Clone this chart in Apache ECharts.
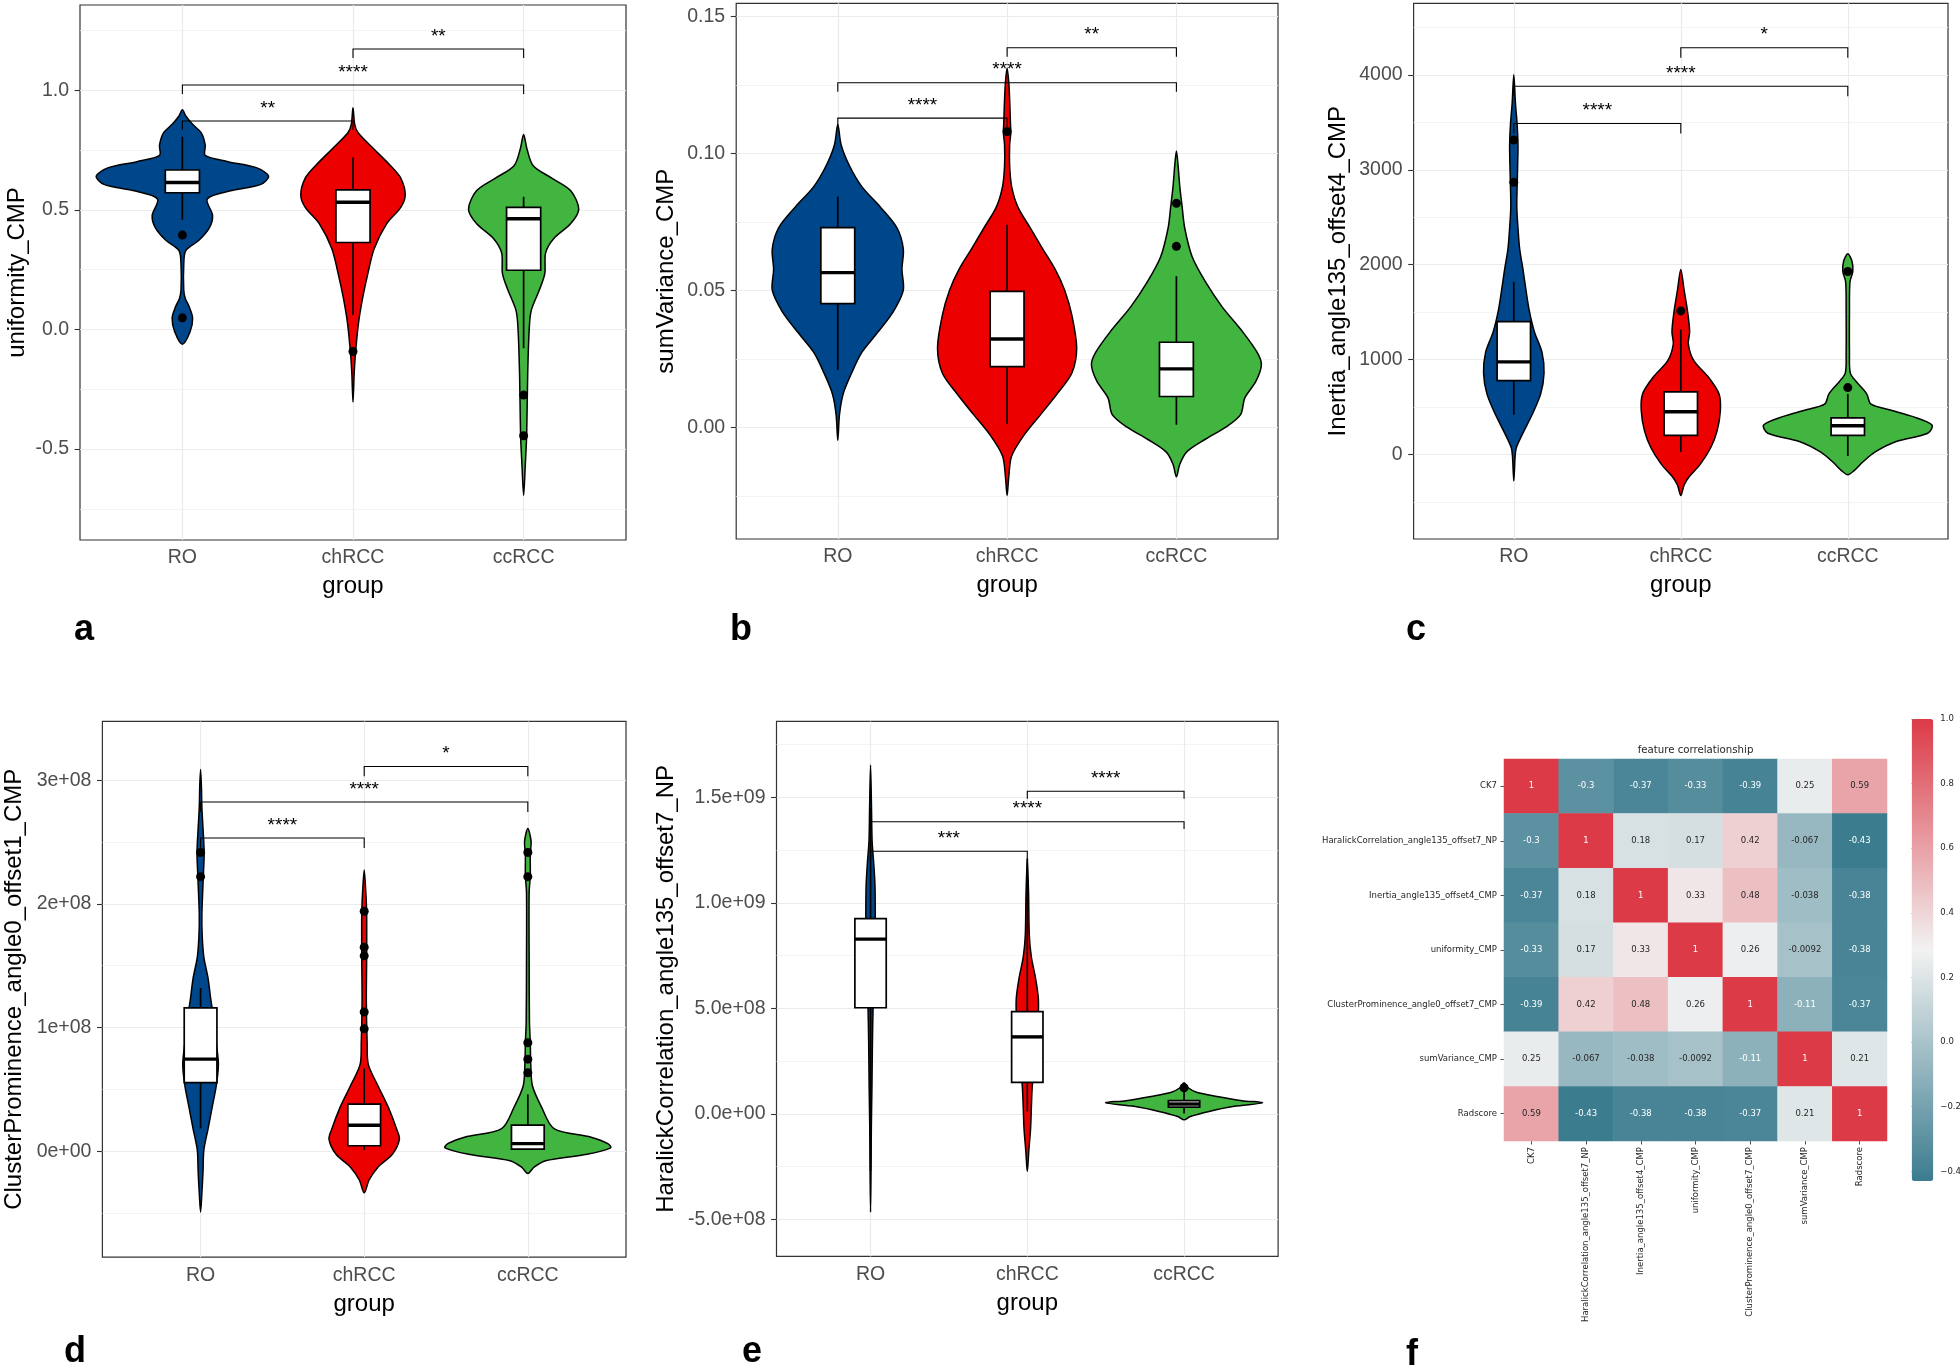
<!DOCTYPE html>
<html><head><meta charset="utf-8">
<script src="https://cdn.jsdelivr.net/npm/echarts@6/dist/echarts.min.js"></script>
<style>html,body{margin:0;padding:0;background:#fff;}#c{width:1960px;height:1372px;}</style>
</head><body><div id="c"></div>
<script>
// ---------------- shared ----------------
const groups = ['RO', 'chRCC', 'ccRCC'];
const groupColors = ['#00468B', '#ED0000', '#42B540'];

// violin profiles: [value, half-width in category units], bottom tip -> top tip
// boxes: [lowerWhisker, q1, median, q3, upperWhisker]
// brackets: [fromGroup, toGroup, yValue, label]

// ---------------- panel a : uniformity_CMP ----------------
const aViolinRO = [[-0.061,0],[-0.009,0.045],[0.048,0.06],[0.095,0.04],[0.13,0.017],[0.165,0.008],[0.27,0.008],[0.33,0.02],[0.373,0.097],[0.425,0.158],[0.477,0.177],[0.546,0.146],[0.581,0.29],[0.607,0.46],[0.641,0.505],[0.676,0.437],[0.702,0.267],[0.728,0.134],[0.771,0.134],[0.823,0.11],[0.858,0.06],[0.893,0.02],[0.919,0]];
const aViolinCh = [[-0.303,0],[-0.182,0.007],[-0.095,0.015],[0.026,0.032],[0.13,0.056],[0.234,0.087],[0.338,0.124],[0.442,0.197],[0.511,0.28],[0.563,0.306],[0.633,0.28],[0.685,0.22],[0.754,0.124],[0.823,0.03],[0.858,0.01],[0.927,0]];
const aViolinCc = [[-0.693,0],[-0.563,0.01],[-0.459,0.017],[-0.355,0.02],[-0.182,0.024],[-0.009,0.032],[0.078,0.044],[0.165,0.092],[0.234,0.124],[0.321,0.129],[0.381,0.177],[0.442,0.275],[0.503,0.323],[0.581,0.275],[0.633,0.165],[0.685,0.056],[0.754,0.02],[0.815,0]];
const aBoxes = [[0.459,0.572,0.615,0.667,0.806],[0.061,0.364,0.532,0.584,0.719],[-0.078,0.248,0.463,0.511,0.555]];
const aOutliers = [[0.395,0.049],[-0.092],[-0.274,-0.444]];
const aBrackets = [[0,1,0.872,'**'],[0,2,1.0225,'****'],[1,2,1.173,'**']];
const aTicks = [-0.5,0,0.5,1.0];
const aTickLabels = ['-0.5','0.0','0.5','1.0'];
const aMinor = [-0.75,-0.25,0.25,0.75,1.25];

// ---------------- panel b : sumVariance_CMP ----------------
const bViolinRO = [[-0.0047,0],[0.0047,0.01],[0.0123,0.032],[0.0198,0.081],[0.0274,0.142],[0.035,0.24],[0.0425,0.33],[0.0501,0.387],[0.0577,0.379],[0.0652,0.387],[0.0728,0.35],[0.0804,0.252],[0.0879,0.142],[0.0955,0.069],[0.1031,0.02],[0.1106,0]];
const bViolinCh = [[-0.0248,0],[-0.0179,0.01],[-0.0104,0.027],[-0.0028,0.1],[0.0047,0.198],[0.0123,0.296],[0.0198,0.382],[0.029,0.411],[0.0411,0.382],[0.0501,0.34],[0.0577,0.284],[0.0652,0.21],[0.0728,0.137],[0.0804,0.064],[0.0879,0.027],[0.0955,0.015],[0.1031,0.015],[0.1076,0.022],[0.1106,0.02],[0.1198,0.015],[0.1259,0.01],[0.1312,0]];
const bViolinCc = [[-0.018,0],[-0.0134,0.02],[-0.0089,0.061],[-0.0043,0.171],[0.0002,0.294],[0.0047,0.379],[0.0108,0.404],[0.0169,0.47],[0.0229,0.502],[0.0274,0.477],[0.035,0.39],[0.0441,0.269],[0.0532,0.171],[0.0623,0.093],[0.0728,0.049],[0.0804,0.034],[0.0879,0.02],[0.0955,0.01],[0.1009,0]];
const bBoxes = [[0.021,0.0452,0.0565,0.0729,0.0843],[0.0014,0.0222,0.0323,0.0497,0.074],[0.001,0.0113,0.0214,0.0311,0.0552]];
const bOutliers = [[],[0.108],[0.0818,0.0661]];
const bBrackets = [[0,1,0.1129,'****'],[0,2,0.1258,'****'],[1,2,0.1386,'**']];
const bTicks = [0,0.05,0.10,0.15];
const bTickLabels = ['0.00','0.05','0.10','0.15'];
const bMinor = [-0.025,0.025,0.075,0.125];

// ---------------- panel c : Inertia_angle135_offset4_CMP ----------------
const cViolinRO = [[-280,0],[-17,0.008],[70,0.015],[201,0.048],[420,0.11],[638,0.161],[857,0.181],[1075,0.169],[1294,0.123],[1513,0.093],[1731,0.073],[1950,0.055],[2168,0.035],[2387,0.025],[2605,0.018],[2824,0.02],[3043,0.023],[3261,0.025],[3480,0.02],[3698,0.01],[4004,0]];
const cViolinCh = [[-433,0],[-323,0.02],[-236,0.05],[-105,0.116],[70,0.179],[245,0.217],[463,0.237],[638,0.229],[813,0.166],[988,0.078],[1163,0.045],[1294,0.053],[1513,0.04],[1731,0.02],[1950,0]];
const cViolinCc = [[-214,0],[-171,0.038],[-83,0.088],[26,0.164],[136,0.29],[223,0.479],[310,0.504],[398,0.39],[463,0.264],[529,0.139],[638,0.113],[769,0.05],[857,0.015],[1075,0.01],[1513,0.01],[1819,0.013],[1928,0.03],[2037,0.025],[2116,0]];
const cBoxes = [[420,778,975,1399,1819],[26,201,450,660,1316],[-17,201,302,385,638]];
const cOutliers = [[3314,2868],[1513],[704,1928]];
const cBrackets = [[0,1,3488,'****'],[0,2,3882,'****'],[1,2,4288,'*']];
const cTicks = [0,1000,2000,3000,4000];
const cTickLabels = ['0','1000','2000','3000','4000'];
const cMinor = [-500,500,1500,2500,3500,4500];

// ---------------- panel d : ClusterProminence_angle0_offset1_CMP (values in units of 1e8) ----------------
const dViolinRO = [[-0.492,0],[-0.336,0.008],[-0.163,0.015],[0.01,0.02],[0.184,0.046],[0.357,0.071],[0.53,0.096],[0.703,0.109],[0.877,0.096],[1.05,0.084],[1.223,0.063],[1.396,0.046],[1.569,0.02],[1.743,0.01],[1.916,0.008],[2.262,0.018],[2.415,0.022],[2.609,0.015],[2.78,0.008],[2.955,0.005],[3.087,0]];
const dViolinCh = [[-0.336,0],[-0.232,0.03],[-0.128,0.084],[-0.024,0.172],[0.097,0.215],[0.184,0.197],[0.357,0.147],[0.53,0.084],[0.703,0.025],[0.877,0.018],[1.223,0.013],[1.569,0.015],[1.916,0.015],[2.089,0.01],[2.273,0]];
const dViolinCc = [[-0.18,0],[-0.128,0.038],[-0.076,0.109],[-0.024,0.362],[0.028,0.506],[0.062,0.489],[0.114,0.387],[0.184,0.16],[0.357,0.084],[0.53,0.028],[0.703,0.018],[0.877,0.015],[1.05,0.01],[1.569,0.008],[2.089,0.008],[2.228,0.015],[2.401,0.015],[2.505,0.02],[2.609,0]];
const dBoxes = [[0.184,0.555,0.745,1.16,1.32],[0.01,0.045,0.211,0.381,0.67],[0.01,0.017,0.062,0.211,0.46]];
const dOutliers = [[2.415,2.22],[1.94,1.65,1.58,1.126,0.99],[2.415,2.22,0.877,0.745,0.634]];
const dBrackets = [[0,1,2.532,'****'],[0,2,2.823,'****'],[1,2,3.111,'*']];
const dTicks = [0,1,2,3];
const dTickLabels = ['0e+00','1e+08','2e+08','3e+08'];
const dMinor = [-0.5,0.5,1.5,2.5];

// ---------------- panel e : HaralickCorrelation_angle135_offset7_NP (values in units of 1e8) ----------------
const eViolinRO = [[-4.65,0],[-2.72,0.003],[-0.69,0.005],[1.34,0.009],[3.37,0.012],[4.99,0.016],[7.0,0.025],[9.25,0.03],[9.86,0.03],[10.88,0.028],[11.9,0.02],[12.91,0.01],[14.53,0.006],[16.52,0]];
const eViolinCh = [[-2.72,0],[-1.71,0.01],[-0.69,0.021],[0.32,0.026],[1.34,0.032],[2.5,0.05],[4.04,0.066],[5.4,0.071],[6.41,0.053],[7.43,0.026],[8.44,0.013],[10.47,0.008],[12.1,0]];
const eViolinCc = [[-0.28,0],[-0.12,0.04],[0.12,0.16],[0.36,0.32],[0.53,0.5],[0.63,0.37],[0.83,0.21],[1.03,0.08],[1.24,0.026],[1.48,0]];
const eBoxes = [[-2.7,5.03,8.28,9.25,14.5],[0.12,1.5,3.65,4.85,12.1],[0.02,0.32,0.47,0.63,1.24]];
const eOutliers = [[],[],[1.24]];
const eBrackets = [[0,1,12.44,'***'],[0,2,13.84,'****'],[1,2,15.28,'****']];
const eTicks = [-5,0,5,10,15];
const eTickLabels = ['-5.0e+08','0.0e+00','5.0e+08','1.0e+09','1.5e+09'];
const eMinor = [-2.5,2.5,7.5,12.5,17.5];

// ---------------- panel f : correlation heatmap ----------------
const featureNames = ['CK7','HaralickCorrelation_angle135_offset7_NP','Inertia_angle135_offset4_CMP','uniformity_CMP','ClusterProminence_angle0_offset7_CMP','sumVariance_CMP','Radscore'];
const corrMatrix = [
  [1,-0.3,-0.37,-0.33,-0.39,0.25,0.59],
  [-0.3,1,0.18,0.17,0.42,-0.067,-0.43],
  [-0.37,0.18,1,0.33,0.48,-0.038,-0.38],
  [-0.33,0.17,0.33,1,0.26,-0.0092,-0.38],
  [-0.39,0.42,0.48,0.26,1,-0.11,-0.37],
  [0.25,-0.067,-0.038,-0.0092,-0.11,1,0.21],
  [0.59,-0.43,-0.38,-0.38,-0.37,0.21,1]
];
const colorbarTicks = [-0.4,-0.2,0,0.2,0.4,0.6,0.8,1.0];
const colorbarMin = -0.43, colorbarMax = 1.0;

// ---------------- layout / style ----------------
const FONT = 'Liberation Sans, Arial, Helvetica, sans-serif';
const HFONT = 'DejaVu Sans, sans-serif';
const HSIZE = 8.5;
const cmapColors = ['#3b7c8f', '#f2f2f2', '#dc3a47'];

const panels = [
  {grid:{left:80, top:5, width:546, height:535}, yMin:-0.880, yMax:1.357, yName:'uniformity_CMP', nameGap:51, tip:0.038,
   violins:[aViolinRO,aViolinCh,aViolinCc], boxes:aBoxes, outliers:aOutliers, brackets:aBrackets, ticks:aTicks, labels:aTickLabels, minor:aMinor},
  {grid:{left:736.2, top:3.3, width:541.8, height:535.7}, yMin:-0.0407, yMax:0.1548, yName:'sumVariance_CMP', nameGap:57.6, tip:0.0033,
   violins:[bViolinRO,bViolinCh,bViolinCc], boxes:bBoxes, outliers:bOutliers, brackets:bBrackets, ticks:bTicks, labels:bTickLabels, minor:bMinor},
  {grid:{left:1413.6, top:3.3, width:534.4, height:535.7}, yMin:-892, yMax:4756, yName:'Inertia_angle135_offset4_CMP', nameGap:63.7, tip:105,
   violins:[cViolinRO,cViolinCh,cViolinCc], boxes:cBoxes, outliers:cOutliers, brackets:cBrackets, ticks:cTicks, labels:cTickLabels, minor:cMinor},
  {grid:{left:102.4, top:721.4, width:523.6, height:535.8}, yMin:-0.856, yMax:3.475, yName:'ClusterProminence_angle0_offset1_CMP', nameGap:76, tip:0.08,
   violins:[dViolinRO,dViolinCh,dViolinCc], boxes:dBoxes, outliers:dOutliers, brackets:dBrackets, ticks:dTicks, labels:dTickLabels, minor:dMinor},
  {grid:{left:776.5, top:721.4, width:501.6, height:535}, yMin:-6.746, yMax:18.59, yName:'HaralickCorrelation_angle135_offset7_NP', nameGap:98, tip:0.35,
   violins:[eViolinRO,eViolinCh,eViolinCc], boxes:eBoxes, outliers:eOutliers, brackets:eBrackets, ticks:eTicks, labels:eTickLabels, minor:eMinor}
];

function labelFor(ticks, labels, v) {
  for (let i = 0; i < ticks.length; i++) if (Math.abs(ticks[i] - v) < 1e-9 * Math.max(1, Math.abs(v))) return labels[i];
  return '';
}

function violinRender(p) {
  return function (params, api) {
    const g = params.dataIndex;
    const cx = g + 1;
    const prof = p.violins[g];
    const right = prof.map(d => api.coord([cx + d[1], d[0]]));
    const left = prof.slice(1, -1).reverse().map(d => api.coord([cx - d[1], d[0]]));
    const pts = right.concat(left);
    const b = p.boxes[g];
    const bw = 0.1;
    const tl = api.coord([cx - bw, b[3]]);
    const br = api.coord([cx + bw, b[1]]);
    const mL = api.coord([cx - bw, b[2]]);
    const mR = api.coord([cx + bw, b[2]]);
    const wTop = api.coord([cx, b[4]]), q3 = api.coord([cx, b[3]]);
    const wBot = api.coord([cx, b[0]]), q1 = api.coord([cx, b[1]]);
    const children = [
      {type:'polygon', shape:{points:pts, smooth:0.3}, style:{fill:groupColors[g], stroke:'#000', lineWidth:1.5}},
      {type:'line', shape:{x1:wTop[0], y1:wTop[1], x2:q3[0], y2:q3[1]}, style:{stroke:'#000', lineWidth:1.7}},
      {type:'line', shape:{x1:wBot[0], y1:wBot[1], x2:q1[0], y2:q1[1]}, style:{stroke:'#000', lineWidth:1.7}},
      {type:'rect', shape:{x:tl[0], y:tl[1], width:br[0]-tl[0], height:br[1]-tl[1]}, style:{fill:'#fff', stroke:'#000', lineWidth:1.7}},
      {type:'line', shape:{x1:mL[0], y1:mL[1], x2:mR[0], y2:mR[1]}, style:{stroke:'#000', lineWidth:3.4}}
    ];
    p.outliers[g].forEach(v => {
      const c = api.coord([cx, v]);
      children.push({type:'circle', shape:{cx:c[0], cy:c[1], r:4.5}, style:{fill:'#000'}});
    });
    return {type:'group', children};
  };
}

function bracketRender(p) {
  return function (params, api) {
    const b = p.brackets[params.dataIndex];
    const x1 = b[0] + 1, x2 = b[1] + 1, y = b[2];
    const A = api.coord([x1, y - p.tip]), B = api.coord([x1, y]), C = api.coord([x2, y]), D = api.coord([x2, y - p.tip]);
    return {type:'group', children:[
      {type:'polyline', shape:{points:[A,B,C,D]}, style:{stroke:'#000', lineWidth:1.1, fill:null}},
      {type:'text', x:(B[0]+C[0])/2, y:B[1]-3, style:{text:b[3], fontSize:19, fontFamily:FONT, fill:'#000', align:'center', verticalAlign:'bottom'}}
    ]};
  };
}

const grids = [], xAxes = [], yAxes = [], series = [];
panels.forEach((p, i) => {
  grids.push(Object.assign({show:true, borderColor:'#333', borderWidth:1.2, backgroundColor:'#fff', containLabel:false, outerBoundsMode:'none'}, p.grid));
  xAxes.push({gridIndex:i, type:'value', min:0.4, max:3.6,
    axisLine:{show:false},
    axisTick:{show:true, customValues:[1,2,3], length:5.4, lineStyle:{color:'#333', width:1.1}},
    axisLabel:{customValues:[1,2,3], formatter:v => groups[Math.round(v)-1], color:'#4d4d4d', fontSize:19.5, fontFamily:FONT, margin:8},
    splitLine:{show:true, lineStyle:{color:'#ebebeb', width:1.2}},
    name:'group', nameLocation:'middle', nameGap:34.7, nameTextStyle:{color:'#000', fontSize:24, fontFamily:FONT}
  });
  yAxes.push({gridIndex:i, type:'value', min:p.yMin, max:p.yMax,
    axisLine:{show:false},
    axisTick:{show:true, customValues:p.ticks, length:5.4, lineStyle:{color:'#333', width:1.1}},
    axisLabel:{customValues:p.ticks, formatter:v => labelFor(p.ticks, p.labels, v), color:'#4d4d4d', fontSize:19.5, fontFamily:FONT, margin:11},
    splitLine:{show:true, lineStyle:{color:'#ebebeb', width:1.2}},
    name:p.yName, nameLocation:'middle', nameGap:p.nameGap, nameTextStyle:{color:'#000', fontSize:24, fontFamily:FONT}
  });
  yAxes.push({gridIndex:i, type:'value', min:p.yMin, max:p.yMax, position:'right',
    axisLine:{show:false},
    axisTick:{show:false, customValues:p.minor},
    axisLabel:{show:false, customValues:p.minor},
    splitLine:{show:true, lineStyle:{color:'#f1f1f1', width:0.8}}
  });
  series.push({type:'custom', xAxisIndex:i, yAxisIndex:2*i, renderItem:violinRender(p), data:[[1,0],[2,0],[3,0]], silent:true, clip:false, z:3});
  series.push({type:'custom', xAxisIndex:i, yAxisIndex:2*i, renderItem:bracketRender(p), data:p.brackets.map(b => [b[0]+1, b[2]]), silent:true, clip:false, z:4});
});

// heatmap grid (index 5) and colorbar grid (index 6)
grids.push({left:1504, top:759, width:383, height:382, containLabel:false, outerBoundsMode:'none'});
grids.push({left:1911.7, top:719, width:21.6, height:462, containLabel:false, outerBoundsMode:'none'});
const heatX = xAxes.length;
xAxes.push({gridIndex:5, type:'category', data:featureNames, position:'bottom',
  axisLine:{show:false}, axisTick:{show:true, alignWithLabel:true, length:3.5, lineStyle:{color:'#262626', width:0.8}},
  axisLabel:{rotate:90, fontSize:HSIZE, fontFamily:HFONT, color:'#262626', margin:6, interval:0}, splitLine:{show:false}});
const heatY = yAxes.length;
yAxes.push({gridIndex:5, type:'category', data:featureNames, inverse:true,
  axisLine:{show:false}, axisTick:{show:true, alignWithLabel:true, length:3.5, lineStyle:{color:'#262626', width:0.8}},
  axisLabel:{fontSize:HSIZE, fontFamily:HFONT, color:'#262626', margin:7, interval:0}, splitLine:{show:false}});
const cbX = xAxes.length;
xAxes.push({gridIndex:6, type:'value', show:false, min:0, max:1});
const cbY = yAxes.length;
yAxes.push({gridIndex:6, type:'value', min:colorbarMin, max:colorbarMax, position:'right',
  axisLine:{show:false},
  axisTick:{show:true, customValues:colorbarTicks, length:3.5, lineStyle:{color:'#262626', width:0.8}},
  axisLabel:{customValues:colorbarTicks, formatter:v => (v < -1e-9 ? '\u2212' + Math.abs(v).toFixed(1) : Math.abs(v).toFixed(1)), fontSize:HSIZE, fontFamily:HFONT, color:'#262626', margin:7},
  splitLine:{show:false}});

function hexToRgb(h) { return [parseInt(h.slice(1,3),16), parseInt(h.slice(3,5),16), parseInt(h.slice(5,7),16)]; }
function cmapAt(v) {
  let t = (v - colorbarMin) / (colorbarMax - colorbarMin);
  t = Math.max(0, Math.min(1, t));
  const seg = t < 0.5 ? 0 : 1;
  const u = seg === 0 ? t / 0.5 : (t - 0.5) / 0.5;
  const a = hexToRgb(cmapColors[seg]), b = hexToRgb(cmapColors[seg+1]);
  return a.map((x, k) => x + (b[k] - x) * u);
}
function luminance(rgb) {
  const c = rgb.map(x => { x /= 255; return x <= 0.03928 ? x / 12.92 : Math.pow((x + 0.055) / 1.055, 2.4); });
  return 0.2126*c[0] + 0.7152*c[1] + 0.0722*c[2];
}
const heatData = [];
corrMatrix.forEach((row, r) => row.forEach((v, c) => {
  heatData.push({value:[c, r, v], label:{color: luminance(cmapAt(v)) > 0.408 ? '#262626' : '#ffffff'}});
}));
const heatIndex = series.length;
series.push({type:'heatmap', xAxisIndex:heatX, yAxisIndex:heatY, data:heatData, silent:true,
  label:{show:true, formatter:p => String(p.value[2]), fontSize:HSIZE, fontFamily:HFONT},
  itemStyle:{borderWidth:0}});
series.push({type:'scatter', xAxisIndex:cbX, yAxisIndex:cbY, data:[], silent:true});

const panelLetters = [['a',84,630],['b',741,630],['c',1416,630],['d',75,1352],['e',752,1352],['f',1412,1355]];
const graphics = panelLetters.map(l => ({type:'text', x:l[1], y:l[2], style:{text:l[0], font:'bold 36px ' + FONT, fill:'#000', align:'center', verticalAlign:'middle'}}));
graphics.push({type:'text', x:1695.5, y:750.4, style:{text:'feature correlationship', font:'10.2px ' + HFONT, fill:'#262626', align:'center', verticalAlign:'middle'}});

const chart = echarts.init(document.getElementById('c'), null, {renderer:'canvas'});
chart.setOption({
  animation:false,
  backgroundColor:'#fff',
  textStyle:{fontFamily:FONT},
  grid:grids, xAxis:xAxes, yAxis:yAxes, series:series,
  visualMap:{type:'continuous', seriesIndex:heatIndex, min:colorbarMin, max:colorbarMax, orient:'vertical',
    left:1911.7, top:719, itemWidth:21.6, itemHeight:462, padding:0, calculable:false, hoverLink:false,
    inRange:{color:cmapColors}},
  graphic:graphics
});
</script></body></html>
